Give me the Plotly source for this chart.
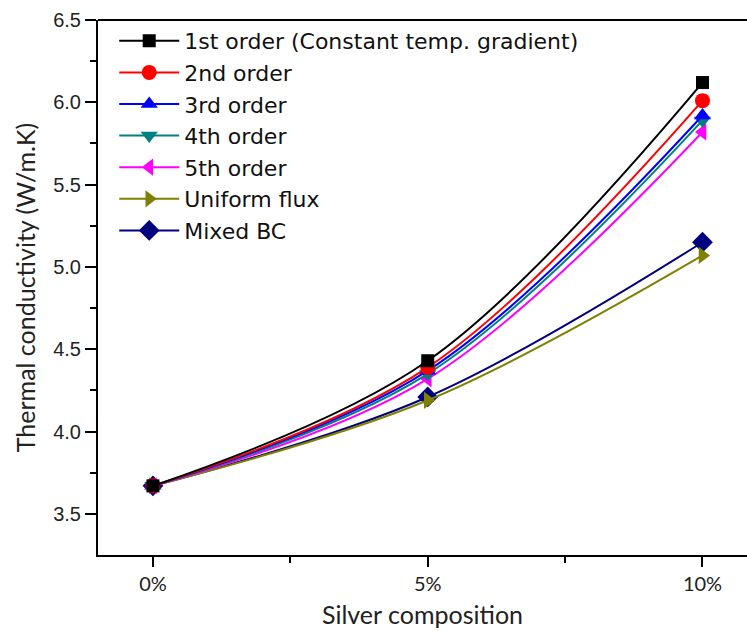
import plotly.graph_objects as go

# Silver composition (%) and thermal conductivity (W/m.K) for each boundary condition
composition = [0, 5, 10]
tick_labels = ["0%", "5%", "10%"]

series_names = [
    "1st order (Constant temp. gradient)",
    "2nd order",
    "3rd order",
    "4th order",
    "5th order",
    "Uniform flux",
    "Mixed BC",
]
first_order = [3.67, 4.43, 6.12]
second_order = [3.67, 4.39, 6.01]
third_order = [3.67, 4.37, 5.92]
fourth_order = [3.67, 4.35, 5.89]
fifth_order = [3.67, 4.32, 5.82]
uniform_flux = [3.67, 4.19, 5.07]
mixed_bc = [3.67, 4.21, 5.15]

values = [first_order, second_order, third_order, fourth_order,
          fifth_order, uniform_flux, mixed_bc]
colors = ["#000000", "#ff0000", "#0000ff", "#008080", "#ff00ff", "#808000", "#000080"]
symbols = ["square", "circle", "triangle-up", "triangle-down",
           "triangle-left", "triangle-right", "diamond"]
sizes = [13, 15, 15, 15, 15, 15, 16]

fig = go.Figure()
# draw the lowest series first so the upper curves sit on top
for name, ys, c, s, sz in reversed(list(zip(series_names, values, colors, symbols, sizes))):
    fig.add_trace(go.Scatter(
        x=composition, y=ys, name=name,
        mode="lines+markers",
        line=dict(color=c, width=2, shape="spline", smoothing=1.0),
        marker=dict(color=c, symbol=s, size=sz, line=dict(width=0)),
    ))

fig.update_layout(
    width=747, height=631,
    margin=dict(l=98, r=0, t=20, b=76),
    paper_bgcolor="white", plot_bgcolor="white",
    showlegend=True,
    legend=dict(
        x=0.025, y=1.0, xanchor="left", yanchor="top",
        font=dict(family="DejaVu Sans, Liberation Sans", size=22, color="#111"),
        traceorder="reversed", itemwidth=60,
        bgcolor="rgba(255,255,255,0)", tracegroupgap=0,
    ),
    xaxis=dict(
        range=[-1.0, 10.81],
        tickmode="array", tickvals=composition, ticktext=tick_labels,
        ticks="outside", ticklen=10, tickwidth=2, tickcolor="black",
        showline=True, linecolor="black", linewidth=2,
        showgrid=False, zeroline=False,
        tickfont=dict(family="Lato, Open Sans", size=20, color="#222"),
        minor=dict(tickvals=[2.5, 7.5], ticks="outside", ticklen=6,
                   tickwidth=2, tickcolor="black"),
        title=dict(text="Silver composition",
                   font=dict(family="Lato, Open Sans", size=25, color="#222"),
                   standoff=12),
    ),
    yaxis=dict(
        range=[3.25, 6.5],
        tickvals=[3.5, 4.0, 4.5, 5.0, 5.5, 6.0, 6.5],
        ticktext=["3.5", "4.0", "4.5", "5.0", "5.5", "6.0", "6.5"],
        ticks="outside", ticklen=11, tickwidth=2, tickcolor="black",
        showline=True, linecolor="black", linewidth=2,
        showgrid=False, zeroline=False,
        tickfont=dict(family="Liberation Sans, Arial", size=20, color="#222"),
        minor=dict(tickvals=[3.75, 4.25, 4.75, 5.25, 5.75, 6.25],
                   ticks="outside", ticklen=6, tickwidth=2, tickcolor="black"),
        title=dict(text="Thermal conductivity (W/m.K)",
                   font=dict(family="Lato, Open Sans", size=25, color="#222"),
                   standoff=10),
    ),
    shapes=[dict(type="line", xref="paper", yref="paper", x0=0, x1=1, y0=1, y1=1,
                 line=dict(color="black", width=2))],
)

fig.write_html("out.html")
